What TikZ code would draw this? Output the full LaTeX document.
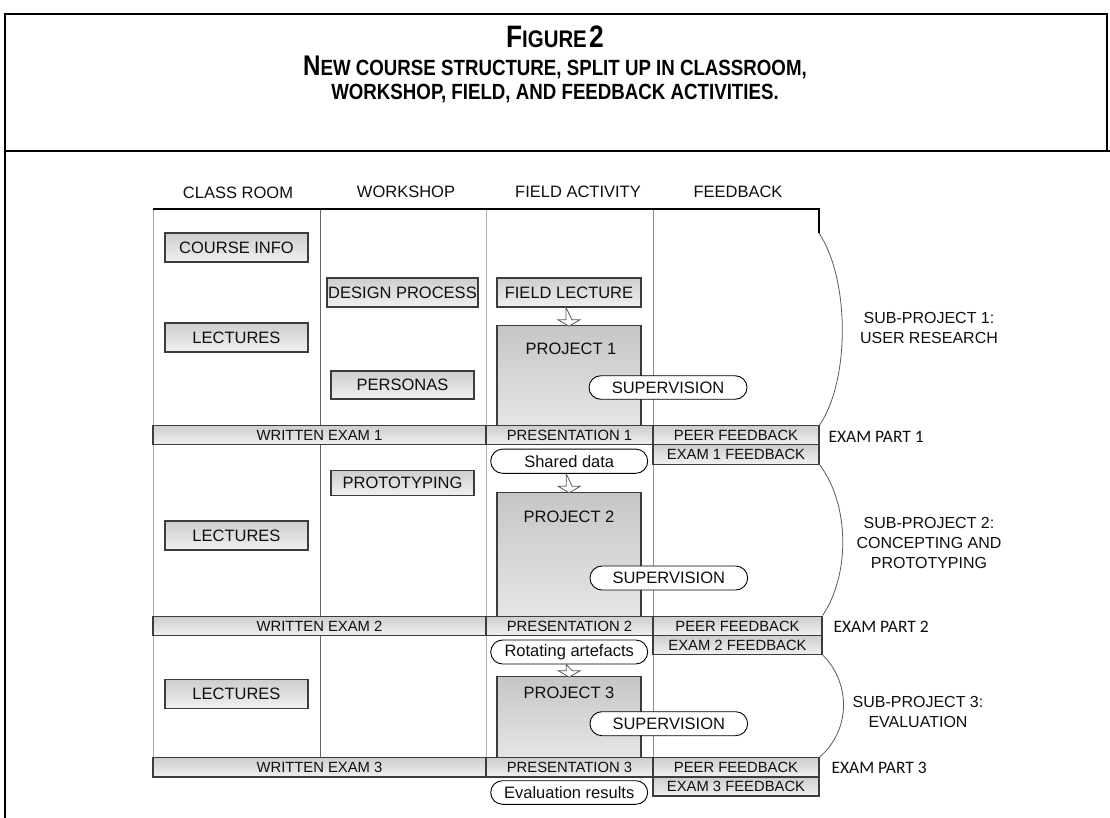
\documentclass[tikz,border=0pt]{standalone}
\usepackage{fontspec}
\setmainfont{Liberation Sans}
\newfontfamily\calfont{Carlito}
\newfontfamily\titlefont{Liberation Sans}[FakeStretch=0.85]
\usetikzlibrary{shapes.misc,calc}
\definecolor{bxtop}{RGB}{206,206,206}
\definecolor{bxbot}{RGB}{240,240,240}
\definecolor{prtop}{RGB}{198,198,198}
\definecolor{prbot}{RGB}{230,230,230}
\definecolor{bxline}{RGB}{60,60,60}
\definecolor{txt}{RGB}{15,15,15}
\newcommand{\BigL}[1]{{\fontsize{28.4}{30}\selectfont #1}}
\newcommand{\SmL}[1]{{\fontsize{22}{24}\selectfont #1}}
\newcommand{\BigF}[1]{{\fontsize{31}{32}\selectfont #1}}
\newcommand{\SmF}[1]{{\fontsize{24}{26}\selectfont #1}}
\tikzset{
  box/.style={draw=bxline, line width=1.1pt, top color=bxtop, bottom color=bxbot,
    inner sep=0pt, text=txt, font=\fontsize{16.5}{18}\selectfont},
  bar/.style={box, font=\fontsize{14.8}{16}\selectfont},
  proj/.style={draw=bxline, line width=1.1pt, top color=prtop, bottom color=prbot, inner sep=0pt},
  plabel/.style={text=txt, font=\fontsize{16.5}{18}\selectfont},
  capsule/.style={rounded rectangle, draw=black, line width=0.9pt, fill=white, inner sep=0pt,
    text=txt, font=\fontsize{16.5}{18}\selectfont},
  colhead/.style={text=txt, font=\fontsize{16.5}{18}\selectfont},
  sublabel/.style={text=txt, align=center, font=\fontsize{16}{20}\selectfont},
  examlabel/.style={text=txt, anchor=west, font=\calfont\fontsize{17.5}{20}\selectfont},
  titletext/.style={font=\titlefont\bfseries},
  colline/.style={line width=0.9pt},
  brace/.style={draw=black!65, line width=0.8pt},
  frame/.style={line width=2pt, black},
  harr/.style={draw=black!65, fill=white, line width=0.8pt, line join=miter},
  pics/harrow/.style={code={\draw[harr] (-3,0) -- (-3,#1-6.5) -- (-11,#1-6.5) -- (0,#1) -- (11,#1-6.5) -- (3,#1-6.5) -- cycle;}}
}
\begin{document}
\begin{tikzpicture}[x=1pt,y=-1pt]
\useasboundingbox (0,0) rectangle (1110,818);
% frame
\draw[frame] (5,818) -- (5,14) -- (1107,14) -- (1107,151);
\draw[frame] (5,151) -- (1110,151);
% title
\node[titletext] (t1) at (555,37) {\BigF{F}\SmF{IGURE} \BigF{2}};
\node[titletext] (t2) at (555,67) {\BigL{N}\SmL{EW COURSE STRUCTURE, SPLIT UP IN CLASSROOM,}};
\node[titletext] (t3) at (555,94) {\SmL{WORKSHOP, FIELD, AND FEEDBACK ACTIVITIES.}};
% column heads
\node[colhead] (h1) at (238,193) {CLASS ROOM};
\node[colhead] (h2) at (406,192) {WORKSHOP};
\node[colhead] (h3) at (578,192) {FIELD ACTIVITY};
\node[colhead] (h4) at (738,192) {FEEDBACK};
% column lines
\draw[colline, black!35] (153,209) -- (153,758);
\draw[colline, black!60] (320,209) -- (320,758);
\draw[colline, black!30] (486,209) -- (486,758);
\draw[colline, black!45] (653,209) -- (653,758);
\coordinate (tc) at (819,233);
\draw[line width=1.2pt, black] (153,209) -- (819,209) -- (tc);
% class room
\node[box, minimum width=143pt, minimum height=29pt] (ci) at (236.5,247.5) {COURSE INFO};
\node[box, minimum width=143pt, minimum height=29pt] (lec1) at (236.5,337.5) {LECTURES};
\node[box, minimum width=143pt, minimum height=29pt] (lec2) at (236.5,535.5) {LECTURES};
\node[box, minimum width=143pt, minimum height=29pt] (lec3) at (236.5,693.8) {LECTURES};
% workshop
\node[box, minimum width=151pt, minimum height=29pt] (dp) at (402.5,292.5) {DESIGN PROCESS};
\node[box, minimum width=143pt, minimum height=28pt] (per) at (402.5,385) {PERSONAS};
\node[box, minimum width=143pt, minimum height=24.6pt] (proto) at (402.5,483) {PROTOTYPING};
% field
\node[box, minimum width=144pt, minimum height=29pt] (fl) at (569,292.5) {FIELD LECTURE};
\node[proj, minimum width=144pt, minimum height=100pt] (p1) at (569,375.7) {};
\node[plabel] (p1t) at (571,349) {PROJECT 1};
\node[proj, minimum width=144pt, minimum height=123.7pt] (p2) at (569,554.2) {};
\node[plabel] (p2t) at (569,517) {PROJECT 2};
\node[proj, minimum width=144pt, minimum height=81pt] (p3) at (569,717.2) {};
\node[plabel] (p3t) at (569,693) {PROJECT 3};
\pic at (fl.south) {harrow=18.7};
% bars
\node[bar, minimum width=333pt, minimum height=19pt] (we1) at (319.5,435.2) {WRITTEN EXAM 1};
\node[bar, minimum width=167pt, minimum height=19pt] (pr1) at (569.5,435.2) {PRESENTATION 1};
\node[bar, minimum width=166pt, minimum height=19pt] (pf1) at (736,435.2) {PEER FEEDBACK};
\node[bar, minimum width=166pt, minimum height=19.3pt] (ef1) at (736,454.4) {EXAM 1 FEEDBACK};
\node[bar, minimum width=333pt, minimum height=19.7pt] (we2) at (319.5,625.9) {WRITTEN EXAM 2};
\node[bar, minimum width=167pt, minimum height=19.7pt] (pr2) at (569.5,625.9) {PRESENTATION 2};
\node[bar, minimum width=169pt, minimum height=19.7pt] (pf2) at (737.5,625.9) {PEER FEEDBACK};
\node[bar, minimum width=169pt, minimum height=18.6pt] (ef2) at (737.5,645) {EXAM 2 FEEDBACK};
\node[bar, minimum width=333pt, minimum height=19.3pt] (we3) at (319.5,767.3) {WRITTEN EXAM 3};
\node[bar, minimum width=167pt, minimum height=19.3pt] (pr3) at (569.5,767.3) {PRESENTATION 3};
\node[bar, minimum width=166pt, minimum height=19.3pt] (pf3) at (736,767.3) {PEER FEEDBACK};
\node[bar, minimum width=166pt, minimum height=19pt] (ef3) at (736,786.5) {EXAM 3 FEEDBACK};
% capsules
\node[capsule, minimum width=158pt, minimum height=23.5pt] (sup1) at (668,387.5) {SUPERVISION};
\node[capsule, minimum width=157pt, minimum height=24.3pt] (sd) at (569.2,461.2) {Shared data};
\node[capsule, minimum width=157.7pt, minimum height=24pt] (sup2) at (668.8,578) {SUPERVISION};
\node[capsule, minimum width=157pt, minimum height=24pt] (ra) at (569.2,652) {Rotating artefacts};
\node[capsule, minimum width=157.7pt, minimum height=24pt] (sup3) at (668.8,723.7) {SUPERVISION};
\node[capsule, minimum width=157pt, minimum height=23.6pt] (er) at (569.2,792.5) {Evaluation results};
\pic at (sd.south) {harrow=19};
\pic at (ra.south) {harrow=12.7};
% braces
\draw[brace] (tc) .. controls (850,280) and (850,380) .. (pf1.north east);
\draw[brace] (ef1.south east) .. controls (850,505) and (850,575) .. (pf2.north east);
\draw[brace] (ef2.south east) .. controls (851,683) and (851,730) .. (pf3.north east);
% labels
\node[sublabel] (s1) at (929,328) {SUB-PROJECT 1:\\USER RESEARCH};
\node[sublabel] (s2) at (929,542.5) {SUB-PROJECT 2:\\CONCEPTING AND\\PROTOTYPING};
\node[sublabel] (s3) at (918,711.7) {SUB-PROJECT 3:\\EVALUATION};
\node[examlabel] (x1) at (825,437) {EXAM PART 1};
\node[examlabel] (x2) at (830,627) {EXAM PART 2};
\node[examlabel] (x3) at (828,768) {EXAM PART 3};
\end{tikzpicture}
\end{document}
